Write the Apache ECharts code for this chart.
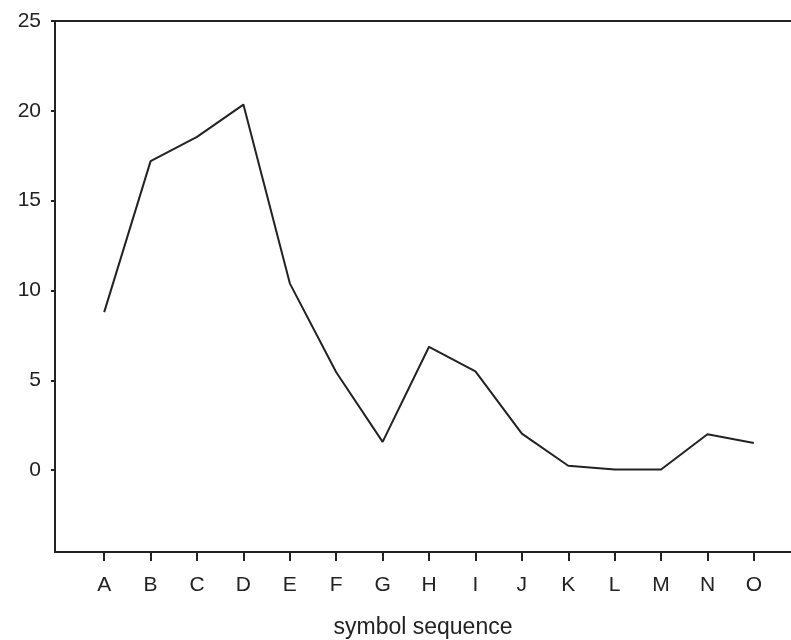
<!DOCTYPE html>
<html><head><meta charset="utf-8">
<script src="https://cdn.jsdelivr.net/npm/echarts@6/dist/echarts.min.js"></script>
<style>html,body{margin:0;padding:0;background:#fff}#c{width:791px;height:640px}</style>
</head><body><div id="c"></div>
<script>
const categories = ['A','B','C','D','E','F','G','H','I','J','K','L','M','N','O'];
const values = [8.8, 17.2, 18.55, 20.35, 10.4, 5.45, 1.58, 6.87, 5.5, 2.04, 0.25, 0.04, 0.04, 2.0, 1.52];
const yTicks = [0, 5, 10, 15, 20, 25];
const xTicks = categories.map((c, i) => i);

const chart = echarts.init(document.getElementById('c'), null, {renderer: 'canvas'});
const font = 'Liberation Sans, Arial, sans-serif';
chart.setOption({
  animation: false,
  backgroundColor: '#fff',
  grid: {left: 55, right: 0, top: 21, bottom: 88, containLabel: false, outerBoundsMode: 'none'},
  xAxis: [{
    type: 'value', min: -1.06, max: 14.8,
    name: 'symbol sequence', nameLocation: 'middle', nameGap: 64,
    nameTextStyle: {fontFamily: font, fontSize: 23, color: '#222'},
    axisLine: {show: true, onZero: false, lineStyle: {color: '#222', width: 2}},
    axisTick: {show: true, length: 9, customValues: xTicks, lineStyle: {color: '#222', width: 2}},
    axisLabel: {customValues: xTicks, margin: 23, fontFamily: font, fontSize: 21, color: '#222',
      formatter: v => categories[Math.round(v)] || ''},
    splitLine: {show: false}
  }, {
    type: 'value', position: 'top', min: -1.06, max: 14.8,
    axisLine: {show: true, onZero: false, lineStyle: {color: '#222', width: 2}},
    axisTick: {show: false}, axisLabel: {show: false}, splitLine: {show: false}
  }],
  yAxis: {
    type: 'value', min: -4.55, max: 25,
    axisLine: {show: true, onZero: false, lineStyle: {color: '#222', width: 2}},
    axisTick: {show: true, length: 4, customValues: yTicks, lineStyle: {color: '#222', width: 2}},
    axisLabel: {customValues: yTicks, margin: 14, fontFamily: font, fontSize: 21, color: '#222'},
    splitLine: {show: false}
  },
  series: [{
    type: 'line',
    data: values.map((v, i) => [i, v]),
    symbol: 'none',
    lineStyle: {color: '#222', width: 2},
    z: 3
  }]
});
</script></body></html>
